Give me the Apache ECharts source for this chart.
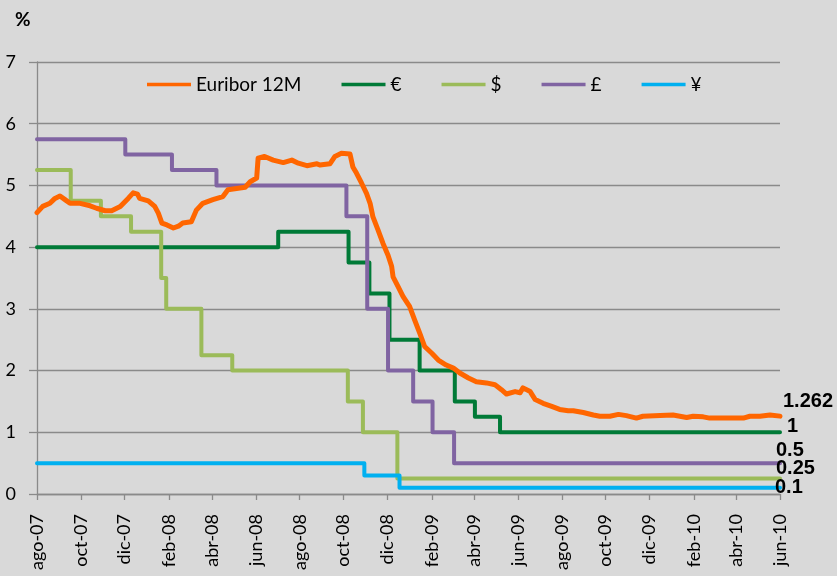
<!DOCTYPE html>
<html>
<head>
<meta charset="utf-8">
<script src="https://cdn.jsdelivr.net/npm/echarts@6/dist/echarts.min.js"></script>
<style>
  html, body { margin: 0; padding: 0; background: #d9d9d9; }
  #chart { width: 837px; height: 576px; }
</style>
</head>
<body>
<div id="chart"></div>
<script>
// Legend names, in drawing order
const seriesNames = ['Euribor 12M', '€', '$', '£', '¥'];

// Euribor 12M, daily fixing (sampled)
const euribor12m = [
  ['2007-08-01', 4.56], ['2007-08-09', 4.66], ['2007-08-19', 4.71], ['2007-08-26', 4.79],
  ['2007-09-02', 4.83], ['2007-09-09', 4.77], ['2007-09-16', 4.71], ['2007-09-30', 4.71],
  ['2007-10-14', 4.67], ['2007-10-23', 4.63], ['2007-11-04', 4.59], ['2007-11-13', 4.59],
  ['2007-11-25', 4.66], ['2007-12-06', 4.79], ['2007-12-13', 4.88], ['2007-12-19', 4.86],
  ['2007-12-22', 4.79], ['2008-01-03', 4.75], ['2008-01-12', 4.66], ['2008-01-17', 4.55],
  ['2008-01-22', 4.39], ['2008-01-29', 4.36], ['2008-02-07', 4.31], ['2008-02-14', 4.34],
  ['2008-02-20', 4.39], ['2008-03-03', 4.41], ['2008-03-10', 4.60], ['2008-03-19', 4.71],
  ['2008-04-02', 4.77], ['2008-04-16', 4.82], ['2008-04-23', 4.93], ['2008-05-05', 4.95],
  ['2008-05-17', 4.97], ['2008-05-24', 5.06], ['2008-06-02', 5.12], ['2008-06-04', 5.44],
  ['2008-06-13', 5.47], ['2008-06-25', 5.41], ['2008-07-09', 5.37], ['2008-07-21', 5.41],
  ['2008-07-30', 5.36], ['2008-08-11', 5.32], ['2008-08-25', 5.35], ['2008-08-29', 5.33],
  ['2008-09-12', 5.35], ['2008-09-19', 5.47], ['2008-09-28', 5.52], ['2008-10-10', 5.51],
  ['2008-10-14', 5.30], ['2008-10-19', 5.20], ['2008-10-26', 5.04], ['2008-11-02', 4.87],
  ['2008-11-07', 4.71], ['2008-11-11', 4.49], ['2008-11-18', 4.28], ['2008-11-25', 4.06],
  ['2008-12-02', 3.87], ['2008-12-07', 3.69], ['2008-12-09', 3.52], ['2008-12-16', 3.36],
  ['2008-12-23', 3.20], ['2009-01-01', 3.04], ['2009-01-08', 2.82], ['2009-01-15', 2.61],
  ['2009-01-22', 2.39], ['2009-02-01', 2.28], ['2009-02-10', 2.17], ['2009-02-21', 2.09],
  ['2009-03-03', 2.04], ['2009-03-12', 1.96], ['2009-03-24', 1.88], ['2009-04-04', 1.82],
  ['2009-04-18', 1.80], ['2009-04-30', 1.77], ['2009-05-09', 1.69], ['2009-05-16', 1.62],
  ['2009-05-28', 1.66], ['2009-06-04', 1.64], ['2009-06-08', 1.72], ['2009-06-18', 1.66],
  ['2009-06-25', 1.53], ['2009-07-06', 1.47], ['2009-07-18', 1.42], ['2009-07-29', 1.37],
  ['2009-08-10', 1.35], ['2009-08-17', 1.35], ['2009-08-31', 1.32], ['2009-09-14', 1.28],
  ['2009-09-23', 1.26], ['2009-10-07', 1.26], ['2009-10-19', 1.29], ['2009-10-30', 1.27],
  ['2009-11-13', 1.23], ['2009-11-22', 1.26], ['2009-12-16', 1.27], ['2010-01-03', 1.28],
  ['2010-01-22', 1.24], ['2010-01-31', 1.26], ['2010-02-14', 1.25], ['2010-02-23', 1.23],
  ['2010-03-19', 1.23], ['2010-04-11', 1.23], ['2010-04-20', 1.26], ['2010-05-04', 1.26],
  ['2010-05-18', 1.28], ['2010-06-01', 1.262]
];

// Official rates: each entry is the date a new level takes effect
const rateEUR = [
  ['2007-08-01', 4.00], ['2008-07-02', 4.25], ['2008-10-08', 3.75], ['2008-11-06', 3.25],
  ['2008-12-04', 2.50], ['2009-01-15', 2.00], ['2009-03-05', 1.50], ['2009-04-02', 1.25],
  ['2009-05-07', 1.00], ['2010-06-01', 1.00]
];
const rateUSD = [
  ['2007-08-01', 5.25], ['2007-09-17', 4.75], ['2007-10-29', 4.50], ['2007-12-10', 4.25],
  ['2008-01-21', 3.50], ['2008-01-28', 3.00], ['2008-03-17', 2.25], ['2008-04-29', 2.00],
  ['2008-10-07', 1.50], ['2008-10-28', 1.00], ['2008-12-15', 0.25], ['2010-06-01', 0.25]
];
const rateGBP = [
  ['2007-08-01', 5.75], ['2007-12-02', 5.50], ['2008-02-05', 5.25], ['2008-04-07', 5.00],
  ['2008-10-05', 4.50], ['2008-11-03', 3.00], ['2008-12-02', 2.00], ['2009-01-06', 1.50],
  ['2009-02-02', 1.00], ['2009-03-04', 0.50], ['2010-06-01', 0.50]
];
const rateJPY = [
  ['2007-08-01', 0.50], ['2008-10-30', 0.30], ['2008-12-18', 0.10], ['2010-06-01', 0.10]
];

// Bimonthly tick dates on the time axis
const tickDates = [
  '2007-08-01', '2007-10-01', '2007-12-01', '2008-02-01', '2008-04-01', '2008-06-01',
  '2008-08-01', '2008-10-01', '2008-12-01', '2009-02-01', '2009-04-01', '2009-06-01',
  '2009-08-01', '2009-10-01', '2009-12-01', '2010-02-01', '2010-04-01', '2010-06-01'
];
const monthAbbr = ['ene', 'feb', 'mar', 'abr', 'may', 'jun', 'jul', 'ago', 'sep', 'oct', 'nov', 'dic'];
const yTicks = [0, 1, 2, 3, 4, 5, 6, 7];

const toTs = s => Date.UTC(+s.slice(0, 4), +s.slice(5, 7) - 1, +s.slice(8, 10));
const toPoints = arr => arr.map(([d, v]) => [toTs(d), v]);
const tickTs = tickDates.map(toTs);

const colors = ['#ff6600', '#007a37', '#9bbb59', '#8064a2', '#00b0f0'];
const labelOffsets = [[0, -15], [4, -6], [-7, -10], [-7, -13], [-8, 0]];
const dataSets = [euribor12m, rateEUR, rateUSD, rateGBP, rateJPY];

const gridColor = '#8a8a8a';
const fontMain = 'Lato, "Open Sans", sans-serif';

const series = dataSets.map((arr, i) => ({
  name: seriesNames[i],
  type: 'line',
  data: toPoints(arr),
  step: i === 0 ? false : 'end',
  showSymbol: false,
  symbol: 'none',
  z: i === 0 ? 5 : 2,
  color: colors[i],
  lineStyle: { color: colors[i], width: i === 0 ? 5 : 4, join: 'round', cap: 'round' },
  endLabel: {
    show: true,
    formatter: p => String(p.value[1]),
    distance: 3,
    offset: labelOffsets[i],
    color: '#000',
    fontFamily: '"Liberation Sans", Arial, sans-serif',
    fontWeight: 'bold',
    fontSize: 20
  }
}));

const chart = echarts.init(document.getElementById('chart'), null, { renderer: 'canvas' });
chart.setOption({
  animation: false,
  backgroundColor: '#d9d9d9',
  title: {
    text: '%',
    left: 15,
    top: 10,
    padding: 0,
    textStyle: { fontFamily: fontMain, fontWeight: 'bold', fontSize: 19, color: '#000' }
  },
  legend: {
    data: seriesNames,
    left: 147,
    top: 75,
    padding: 0,
    icon: 'rect',
    itemWidth: 44,
    itemHeight: 3.5,
    itemGap: 40,
    textStyle: { fontFamily: fontMain, fontSize: 19, color: '#000' }
  },
  grid: { left: 37, right: 57, top: 62, bottom: 82, containLabel: false },
  xAxis: {
    type: 'value',
    min: tickTs[0],
    max: tickTs[tickTs.length - 1],
    splitLine: { show: false },
    axisLine: { show: true, lineStyle: { color: gridColor, width: 1.3 } },
    axisTick: { show: true, length: 6, customValues: tickTs, lineStyle: { color: gridColor, width: 1.3 } },
    axisLabel: {
      customValues: tickTs,
      rotate: 90,
      margin: 20,
      color: '#000',
      fontFamily: fontMain,
      fontSize: 18,
      formatter: v => {
        const d = new Date(v);
        return monthAbbr[d.getUTCMonth()] + '-' + String(d.getUTCFullYear()).slice(2);
      }
    }
  },
  yAxis: {
    type: 'value',
    min: yTicks[0],
    max: yTicks[yTicks.length - 1],
    interval: 1,
    axisLine: { show: true, lineStyle: { color: gridColor, width: 1.3 } },
    axisTick: { show: true, length: 8, lineStyle: { color: gridColor, width: 1.3 } },
    splitLine: { show: true, lineStyle: { color: gridColor, width: 1.3 } },
    axisLabel: { color: '#000', fontFamily: fontMain, fontSize: 18, margin: 21 }
  },
  series: series
});
</script>
</body>
</html>
